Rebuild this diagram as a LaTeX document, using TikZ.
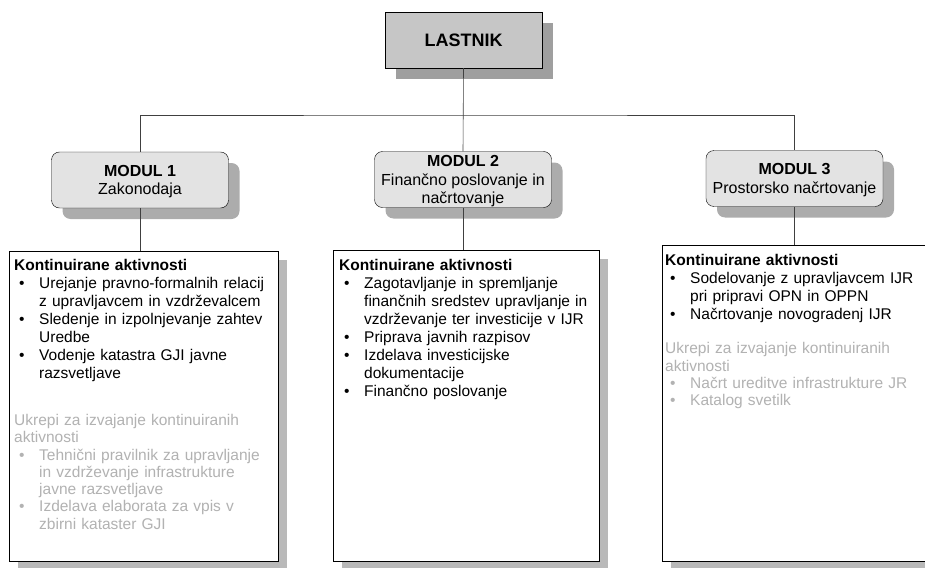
\documentclass[tikz,border=0pt]{standalone}
\usepackage{fontspec}
\setmainfont{Liberation Sans}
\usetikzlibrary{positioning,shadows}

\newcommand{\itm}[1]{\par\hangindent=25pt\hangafter=1\noindent\makebox[25pt][l]{\hspace{5pt}\textbullet}#1\par}

\begin{document}
\begin{tikzpicture}[x=1pt, y=-1pt,
        owner/.style={draw, fill=gray!45, minimum width=157pt, minimum height=56pt,
            font=\fontsize{18}{20}\selectfont\bfseries,
            drop shadow={shadow xshift=11pt, shadow yshift=-11pt, fill=gray!75, opacity=1}},
        modul/.style={draw, rounded corners=8pt, fill=gray!22, minimum width=177pt, minimum height=56pt,
            align=center, inner sep=2pt, text depth=0pt, font=\fontsize{16}{18.5}\selectfont,
            drop shadow={shadow xshift=11pt, shadow yshift=-11pt, fill=gray!65, opacity=1}},
        panel/.style={draw, fill=white, anchor=north west, inner sep=0pt,
            drop shadow={shadow xshift=9pt, shadow yshift=-9pt, fill=gray!55, opacity=1}},
        list/.style={anchor=north west, inner sep=0pt, text width=270pt, align=left,
            font=\fontsize{15.5}{18}\selectfont},
        later/.style={list, text=black!30, font=\fontsize{15.5}{17.3}\selectfont},
        link/.style={draw=black!75, line width=0.6pt}]
        \useasboundingbox (0,0) rectangle (925,567);
        \clip (0,0) rectangle (925,567);

        \node[owner] (last) at (463.5,40) {LASTNIK};

        \node[modul] (m1) at (140,180) {\textbf{MODUL 1}\\Zakonodaja};
        \node[modul] (m2) at (463,179.5) {\textbf{MODUL 2}\\Finančno poslovanje in\\načrtovanje};
        \node[modul] (m3) at (794.5,178.5) {\textbf{MODUL 3}\\Prostorsko načrtovanje};

        \node[panel, minimum width=269pt, minimum height=310pt] (k1) at (9,251) {};
        \node[panel, minimum width=266pt, minimum height=311pt] (k2) at (333,250) {};
        \node[panel, minimum width=290pt, minimum height=316pt] (k3) at (662,245) {};

        \coordinate (bus) at (last.south |- 0,115);
        \draw[link] (m1.north) |- (bus) -| (m3.north);
        \draw[link] (last.south) -- (m2.north);
        \draw[link] (m1.south) -- (m1.south |- k1.north);
        \draw[link] (m2.south) -- (m2.south |- k2.north);
        \draw[link] (m3.south) -- (m3.south |- k3.north);

        \node[list] (t1) at ([shift={(5,8.5)}]k1.north west) {\textbf{Kontinuirane aktivnosti}
            \itm{Urejanje pravno-formalnih relacij\newline z upravljavcem in vzdrževalcem}
            \itm{Sledenje in izpolnjevanje zahtev\newline Uredbe}
            \itm{Vodenje katastra GJI javne\newline razsvetljave}};
        \node[later] (u1) at ([shift={(5,163)}]k1.north west) {Ukrepi za izvajanje kontinuiranih\newline aktivnosti
            \itm{Tehnični pravilnik za upravljanje\newline in vzdrževanje infrastrukture\newline javne razsvetljave}
            \itm{Izdelava elaborata za vpis v\newline zbirni kataster GJI}};

        \node[list] (t2) at ([shift={(6,9)}]k2.north west) {\textbf{Kontinuirane aktivnosti}
            \itm{Zagotavljanje in spremljanje\newline finančnih sredstev upravljanje in\newline vzdrževanje ter investicije v IJR}
            \itm{Priprava javnih razpisov}
            \itm{Izdelava investicijske\newline dokumentacije}
            \itm{Finančno poslovanje}};

        \node[list] (t3) at ([shift={(3,9)}]k3.north west) {\textbf{Kontinuirane aktivnosti}
            \itm{Sodelovanje z upravljavcem IJR\newline pri pripravi OPN in OPPN}
            \itm{Načrtovanje novogradenj IJR}};
        \node[later] (u3) at ([shift={(3,97.5)}]k3.north west) {Ukrepi za izvajanje kontinuiranih\newline aktivnosti
            \itm{Načrt ureditve infrastrukture JR}
            \itm{Katalog svetilk}};
    \end{tikzpicture}
\end{document}
